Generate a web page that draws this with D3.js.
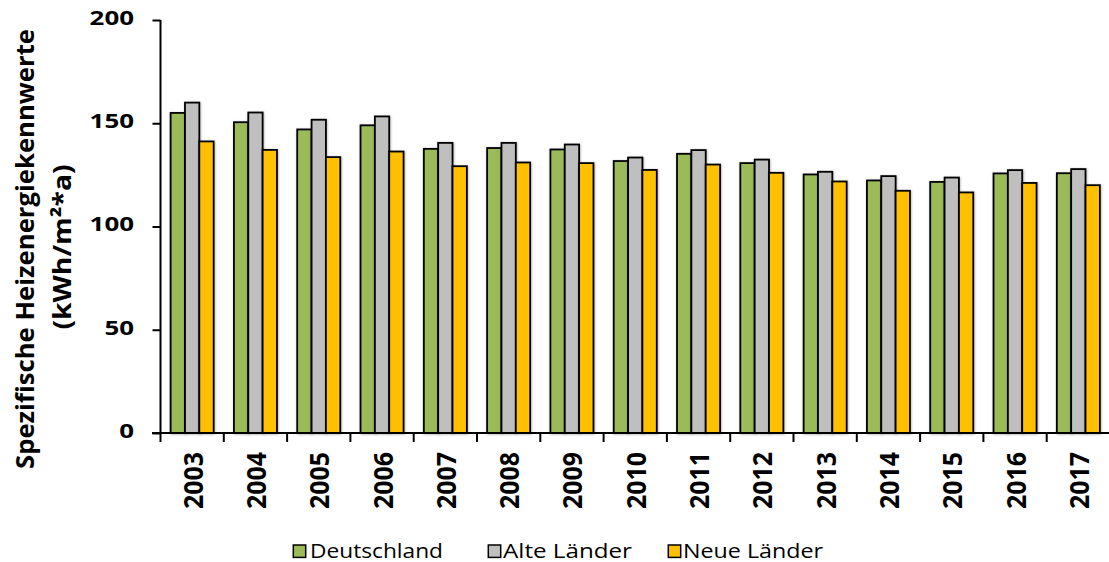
<!DOCTYPE html>
<html>
<head>
<meta charset="utf-8">
<script src="https://cdn.jsdelivr.net/npm/d3@7"></script>
<style>
  html, body { margin: 0; padding: 0; background: #fff; }
  svg { display: block; }
  text { font-family: "Open Sans", Lato, "Liberation Sans", sans-serif; fill: #000; }
</style>
</head>
<body>
<svg id="chart" width="1109" height="562"></svg>
<script>
// Specific heating energy values per year (kWh/m²*a)
const years = ["2003","2004","2005","2006","2007","2008","2009","2010","2011","2012","2013","2014","2015","2016","2017"];
const deutschland = [155, 150.5, 147, 149, 137.6, 138, 137.3, 131.7, 135.2, 130.7, 125.2, 122.3, 121.6, 125.7, 125.8];
const alteLaender = [160, 155.2, 151.7, 153.3, 140.5, 140.5, 139.7, 133.4, 137, 132.4, 126.5, 124.4, 123.7, 127.3, 127.8];
const neueLaender = [141.2, 137.1, 133.6, 136.3, 129.2, 131, 130.7, 127.4, 130, 126, 121.8, 117.3, 116.5, 121.1, 120];
const seriesNames = ["Deutschland", "Alte Länder", "Neue Länder"];
const seriesColors = ["#9BBB59", "#BFBFBF", "#FFC000"];
const yTicks = [0, 50, 100, 150, 200];
const yTitle = ["Spezifische Heizenergiekennwerte", "(kWh/m²*a)"];

const seriesValues = [deutschland, alteLaender, neueLaender];
const svg = d3.select("#chart");

const plot = { left: 160.5, right: 1110, top: 20, bottom: 433 };

const x = d3.scaleBand().domain(years).range([plot.left, plot.right]).paddingInner(0.32).paddingOuter(0.16);
const xs = d3.scaleBand().domain(seriesNames).range([0, x.bandwidth()]);
const y = d3.scaleLinear().domain([0, 200]).range([plot.bottom, plot.top]);

// soft halo around bars
const defs = svg.append("defs");
const f = defs.append("filter").attr("id", "halo").attr("x", "-20%").attr("y", "-5%").attr("width", "140%").attr("height", "110%");
f.append("feDropShadow").attr("dx", 0.6).attr("dy", 0.6).attr("stdDeviation", 0.9)
  .attr("flood-color", "#000").attr("flood-opacity", 0.3);

// bars
const groups = svg.append("g").selectAll("g")
  .data(years).join("g")
  .attr("transform", d => `translate(${x(d)},0)`);

groups.selectAll("rect")
  .data((d, i) => seriesNames.map((s, j) => ({ s, j, v: seriesValues[j][i] })))
  .join("rect")
  .attr("x", d => xs(d.s))
  .attr("y", d => y(d.v))
  .attr("width", xs.bandwidth())
  .attr("height", d => y(0) - y(d.v))
  .attr("fill", d => seriesColors[d.j])
  .attr("stroke", "#000")
  .attr("stroke-width", 1.8)
  .attr("filter", "url(#halo)");

// y axis
const yAxis = d3.axisLeft(y).tickValues(yTicks).tickSize(8).tickFormat("");
const gy = svg.append("g").attr("transform", `translate(${plot.left},0)`).call(yAxis);
gy.select(".domain").attr("stroke", "#000").attr("stroke-width", 2).attr("d", `M0,${plot.top}V${plot.bottom}`);
gy.selectAll(".tick line").attr("stroke", "#000").attr("stroke-width", 2);

svg.append("g").selectAll("text")
  .data(yTicks).join("text")
  .attr("x", 134)
  .attr("y", d => y(d) + 4.8)
  .attr("text-anchor", "end")
  .attr("font-size", 19)
  .attr("font-weight", "bold")
  .attr("textLength", d => String(d).length * 14.8)
  .attr("lengthAdjust", "spacingAndGlyphs")
  .text(d => d);

// x axis with ticks at the category boundaries
const bounds = years.map(d => x(d) - x.step() * x.paddingOuter()).concat([plot.right]);
const gx = svg.append("g");
gx.append("line")
  .attr("x1", 152).attr("x2", plot.right)
  .attr("y1", y(0)).attr("y2", y(0))
  .attr("stroke", "#000").attr("stroke-width", 2);
gx.selectAll("line.tk")
  .data(bounds).join("line").attr("class", "tk")
  .attr("x1", d => d).attr("x2", d => d)
  .attr("y1", y(0)).attr("y2", y(0) + 9)
  .attr("stroke", "#000").attr("stroke-width", 2);

gx.selectAll("text")
  .data(years).join("text")
  .attr("transform", d => `translate(${x(d) + x.bandwidth() / 2 + 10.5},452) rotate(-90)`)
  .attr("text-anchor", "end")
  .attr("font-size", 27)
  .attr("font-weight", "bold")
  .attr("textLength", 57)
  .attr("lengthAdjust", "spacingAndGlyphs")
  .text(d => d);

// y axis title (two lines)
const titleLen = [440, 165];
const titleX = [34, 71];
svg.append("g").selectAll("text")
  .data(yTitle).join("text")
  .attr("transform", (d, i) => `translate(${titleX[i]},${i === 0 ? 249 : 247}) rotate(-90)`)
  .attr("text-anchor", "middle")
  .attr("font-size", 25)
  .attr("font-weight", "bold")
  .attr("textLength", (d, i) => titleLen[i])
  .attr("lengthAdjust", "spacingAndGlyphs")
  .text(d => d);

// legend
const legX = [293.3, 488.3, 668.3];
const legTextX = [310, 503, 683];
const legLen = [133, 129, 140];
const leg = svg.append("g").selectAll("g")
  .data(seriesNames).join("g");
leg.append("rect")
  .attr("x", (d, i) => legX[i]).attr("y", 545)
  .attr("width", 12.4).attr("height", 12.4)
  .attr("fill", (d, i) => seriesColors[i])
  .attr("stroke", "#000").attr("stroke-width", 1.5);
leg.append("text")
  .attr("x", (d, i) => legTextX[i]).attr("y", 557.5)
  .attr("font-size", 19.5)
  .attr("textLength", (d, i) => legLen[i])
  .attr("lengthAdjust", "spacingAndGlyphs")
  .text(d => d);
</script>
</body>
</html>
